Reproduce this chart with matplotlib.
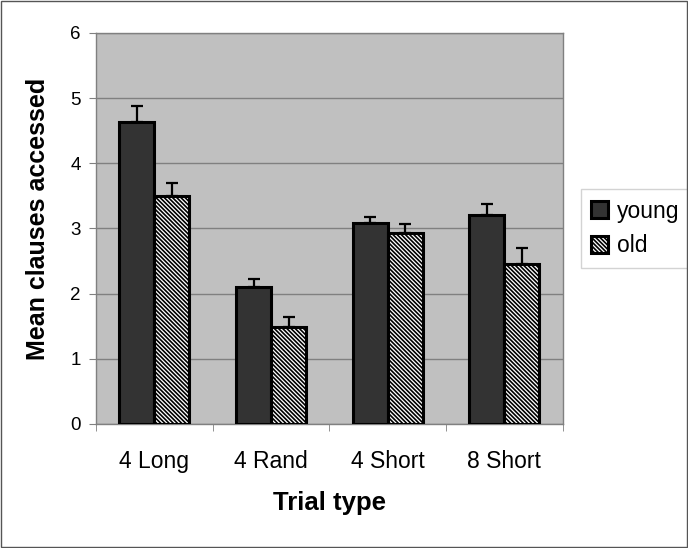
import matplotlib.pyplot as plt
import numpy as np

# 数据
categories = ['4 Long', '4 Rand', '4 Short', '8 Short']
young = [4.64, 2.10, 3.09, 3.21]
old = [3.50, 1.49, 2.93, 2.45]
young_err = [0.24, 0.12, 0.09, 0.17]
old_err = [0.20, 0.15, 0.14, 0.25]

plt.rcParams['font.family'] = ['Liberation Sans', 'DejaVu Sans']
plt.rcParams['hatch.linewidth'] = 1.2
plt.rcParams['hatch.color'] = '#333333'

fig = plt.figure(figsize=(6.88, 5.48), dpi=100)
ax = fig.add_axes([0.1395, 0.2263, 0.818 - 0.1395, 0.9398 - 0.2263])

x = np.arange(len(categories))
w = 0.3

ax.set_facecolor('#c0c0c0')
ax.set_axisbelow(True)
ax.yaxis.grid(True, color='#808080', linewidth=1)

ax.bar(x - w / 2, young, w, color='#333333', edgecolor='black', linewidth=2.2,
       label='young', zorder=3)
ax.bar(x + w / 2, old, w, color='white', edgecolor='black', linewidth=2.2,
       hatch='\\\\\\\\\\\\\\\\', label='old', zorder=3)

# 只画向上的误差线
ax.errorbar(x - w / 2, young, yerr=[np.zeros(4), young_err], fmt='none',
            ecolor='black', elinewidth=1.6, capsize=4.5, capthick=1.6, zorder=4)
ax.errorbar(x + w / 2, old, yerr=[np.zeros(4), old_err], fmt='none',
            ecolor='black', elinewidth=1.6, capsize=4.5, capthick=1.6, zorder=4)

ax.set_xlim(-0.5, 3.5)
ax.set_ylim(0, 6)
ax.set_yticks(range(7))
ax.set_xticks(x)
ax.set_xticklabels(categories)
ax.set_xticks(np.arange(-0.5, 4.0, 1), minor=True)
ax.tick_params(axis='x', which='major', length=0, labelsize=16.5, pad=19)
ax.tick_params(axis='x', which='minor', length=5, color='#808080', direction='out')
ax.tick_params(axis='y', labelsize=13.5, length=5, color='#808080', pad=6)

for s in ax.spines.values():
    s.set_color('#808080')
    s.set_linewidth(1)

ax.set_ylabel('Mean clauses accessed', fontsize=18, fontweight='bold')
ax.yaxis.set_label_coords(-0.0985, 0.524)
ax.set_xlabel('Trial type', fontsize=18.5, fontweight='bold', labelpad=13)

leg = ax.legend(loc='center left', bbox_to_anchor=(1.038, 0.5), fontsize=16.5,
                frameon=True, fancybox=False, edgecolor='#c8c8c8',
                handlelength=0.75, handleheight=0.75, handletextpad=0.4,
                borderpad=0.45, labelspacing=0.5, borderaxespad=0)
leg.get_frame().set_linewidth(1)

# 外边框
fig.patches.append(plt.Rectangle((0.001, 0.001), 0.998, 0.998, transform=fig.transFigure,
                                 fill=False, edgecolor='#555555', linewidth=1))

fig.savefig('out.png', dpi=100)
